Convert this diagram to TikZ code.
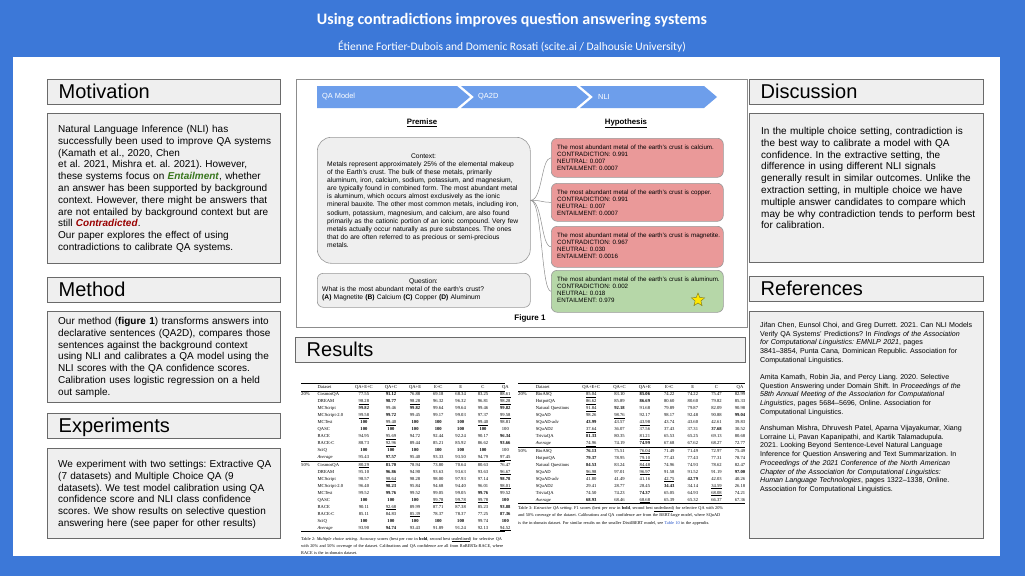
\documentclass[tikz,border=0pt]{standalone}
\usepackage{fontspec}
\setmainfont{Liberation Sans}
\newfontfamily\carlito{Carlito}
\newfontfamily\timesfont{Liberation Serif}
\usetikzlibrary{positioning,shapes.geometric}
\definecolor{bgblue}{HTML}{3C78D8}
\definecolor{boxfill}{HTML}{EFEFEF}
\definecolor{boxline}{HTML}{6A6A6A}
\definecolor{chev}{HTML}{6D9EEB}
\definecolor{redbox}{HTML}{EA9999}
\definecolor{greenbox}{HTML}{B6D7A8}
\definecolor{entgreen}{HTML}{38761D}
\definecolor{contred}{HTML}{990000}
\definecolor{linkblue}{HTML}{1F4FC8}
\frenchspacing
\setlength{\arrayrulewidth}{0.3pt}
\newcommand{\bst}[1]{\textbf{#1}}
\newcommand{\snd}[1]{\underline{#1}}
\tikzset{
  head/.style={draw=boxline, fill=boxfill, line width=0.9pt, anchor=north west, minimum height=24.5pt, inner sep=0pt},
  headtxt/.style={anchor=base west, inner sep=0pt, font=\fontsize{20}{24}\selectfont},
  panel/.style={draw=boxline, fill=boxfill, line width=0.9pt, anchor=north west, inner sep=0pt},
  bodytxt/.style={anchor=base west, text width=240pt, align=left, inner sep=0pt, font=\fontsize{10}{11.8}\selectfont},
  reftxt/.style={anchor=base west, text width=225pt, align=left, inner sep=0pt, font=\fontsize{7.1}{8.7}\selectfont},
  figtxt/.style={anchor=base west, text width=215pt, align=left, inner sep=0pt, font=\fontsize{6.7}{8.1}\selectfont},
  hypbox/.style={draw=black!40, line width=0.6pt, rounded corners=6pt, anchor=north west, minimum width=172pt, inner sep=0pt},
  hyptxt/.style={anchor=base west, text width=170pt, align=left, inner sep=0pt, font=\fontsize{6.2}{7}\selectfont},
  chevtxt/.style={anchor=west, inner sep=0pt, text=white, font=\fontsize{7.4}{9}\selectfont},
  link/.style={draw=black!45, line width=0.5pt},
  tabtxt/.style={anchor=north west, inner sep=0pt, font=\timesfont\fontsize{4.6}{7}\selectfont},
  captxt/.style={anchor=base west, text width=240pt, align=left, inner sep=0pt, font=\timesfont\fontsize{4.3}{7.3}\selectfont}
}
\begin{document}
\begin{tikzpicture}[x=1pt,y=-1pt]
\useasboundingbox (0,0) rectangle (1025,576);
\fill[bgblue] (0,0) rectangle (1025,576);
\fill[white] (13,57) rectangle (1000,556);
\node[text=white, font=\carlito\bfseries\fontsize{16}{19}\selectfont] (title) at (512,20) {Using contradictions improves question answering systems};
\node[text=white, font=\carlito\fontsize{11.5}{14}\selectfont] (authors) at (512,47) {Étienne Fortier-Dubois and Domenic Rosati (scite.ai / Dalhousie University)};

% section headers and panels
\foreach \nm/\x/\y/\w/\txt in {mot/47/79/233/Motivation, meth/47/277/233/Method, exp/47/413/233/Experiments, disc/749/79/234/Discussion, ref/749/276/234/References, res/295/337/450/Results}{
  \node[head, minimum width=\w] (\nm-head) at (\x,\y) {};
  \node[headtxt] (\nm-title) at ([shift={(11.5,19)}]\nm-head.north west) {\txt};
}
\foreach \nm/\x/\y/\w/\h in {mot/47/113/233/150, meth/47/311/233/91, exp/47/448/233/90, disc/749/113/234/149, ref/749/311/234/227}
  \node[panel, minimum width=\w, minimum height=\h] (\nm-box) at (\x,\y) {};

\node[bodytxt] (mot-txt) at (58,132.5) {Natural Language Inference (NLI) has\\ successfully been used to improve QA systems\\ (Kamath et al., 2020, Chen\\ et al. 2021, Mishra et. al. 2021). However,\\ these systems focus on \textcolor{entgreen}{\textbf{\textit{Entailment}}}, whether\\ an answer has been supported by background\\ context. However, there might be answers that\\ are not entailed by background context but are\\ still \textcolor{contred}{\textbf{\textit{Contradicted}}}.\\ Our paper explores the effect of using\\ contradictions to calibrate QA systems.};
\node[bodytxt] (meth-txt) at (58,324.5) {Our method (\textbf{figure 1}) transforms answers into\\ declarative sentences (QA2D), compares those\\ sentences against the background context\\ using NLI and calibrates a QA model using the\\ NLI scores with the QA confidence scores.\\ Calibration uses logistic regression on a held\\ out sample.};
\node[bodytxt] (exp-txt) at (58,467.5) {We experiment with two settings: Extractive QA\\ (7 datasets) and Multiple Choice QA (9\\ datasets). We test model calibration using QA\\ confidence score and NLI class confidence\\ scores. We show results on selective question\\ answering here (see paper for other results)};
\node[bodytxt] (disc-txt) at (761,134.5) {In the multiple choice setting, contradiction is\\ the best way to calibrate a model with QA\\ confidence. In the extractive setting, the\\ difference in using different NLI signals\\ generally result in similar outcomes. Unlike the\\ extraction setting, in multiple choice we have\\ multiple answer candidates to compare which\\ may be why contradiction tends to perform best\\ for calibration.};

% references, hanging indent
\node[reftxt] (ref1) at (760,327.5) {\hangindent=13pt\hangafter=1 Jifan Chen, Eunsol Choi, and Greg Durrett. 2021. Can NLI Models\\ Verify QA Systems' Predictions? In \textit{Findings of the Association}\\ \textit{for Computational Linguistics: EMNLP 2021}, pages\\ 3841--3854, Punta Cana, Dominican Republic. Association for\\ Computational Linguistics.};
\node[reftxt] (ref2) at (760,379.5) {\hangindent=13pt\hangafter=1 Amita Kamath, Robin Jia, and Percy Liang. 2020. Selective\\ Question Answering under Domain Shift. In \textit{Proceedings of the}\\ \textit{58th Annual Meeting of the Association for Computational}\\ \textit{Linguistics}, pages 5684--5696, Online. Association for\\ Computational Linguistics.};
\node[reftxt] (ref3) at (760,430.5) {\hangindent=13pt\hangafter=1 Anshuman Mishra, Dhruvesh Patel, Aparna Vijayakumar, Xiang\\ Lorraine Li, Pavan Kapanipathi, and Kartik Talamadupula.\\ 2021. Looking Beyond Sentence-Level Natural Language\\ Inference for Question Answering and Text Summarization. In\\ \textit{Proceedings of the 2021 Conference of the North American}\\ \textit{Chapter of the Association for Computational Linguistics:}\\ \textit{Human Language Technologies}, pages 1322--1338, Online.\\ Association for Computational Linguistics.};

% figure 1
\node[draw=black!45, line width=0.8pt, anchor=north west, minimum width=451pt, minimum height=248pt, inner sep=0pt] (fig) at (296,79) {};
\foreach \l/\r/\s in {317/457/0, 461/576/13, 580/704/13}
  \fill[chev] (\l,86) -- (\r,86) -- (\r+13,97) -- (\r,108) -- (\l,108) -- (\l+\s,97) -- cycle;
\node[chevtxt] (chev1) at (322,97) {QA Model};
\node[chevtxt] (chev2) at (478,97) {QA2D};
\node[chevtxt] (chev3) at (598,97) {NLI};
\node[font=\bfseries\fontsize{7.8}{9}\selectfont] (premise) at (422,123) {\underline{Premise}};
\node[font=\bfseries\fontsize{7.8}{9}\selectfont] (hypo) at (626,123) {\underline{Hypothesis}};

\node[draw=black!40, fill=boxfill, line width=0.6pt, rounded corners=14pt, anchor=north west, minimum width=213pt, minimum height=126pt, inner sep=0pt] (ctx) at (317,137) {};
\node[font=\fontsize{6.7}{8.1}\selectfont] (ctx-label) at (423.5,156) {Context:};
\node[figtxt] (ctx-txt) at (327,166.4) {Metals represent approximately 25\% of the elemental makeup\\ of the Earth's crust. The bulk of these metals, primarily\\ aluminum, iron, calcium, sodium, potassium, and magnesium,\\ are typically found in combined form. The most abundant metal\\ is aluminum, which occurs almost exclusively as the ionic\\ mineral bauxite. The other most common metals, including iron,\\ sodium, potassium, magnesium, and calcium, are also found\\ primarily as the cationic portion of an ionic compound. Very few\\ metals actually occur naturally as pure substances. The ones\\ that do are often referred to as precious or semi-precious\\ metals.};
\node[draw=black!40, fill=boxfill, line width=0.6pt, rounded corners=6pt, anchor=north west, minimum width=213pt, minimum height=34pt, inner sep=0pt] (quest) at (317,273) {};
\node[font=\fontsize{6.7}{8.1}\selectfont] (quest-label) at (423.5,282) {Question:};
\node[figtxt] (quest-txt) at (322,291.6) {What is the most abundant metal of the earth's crust?\\ \textbf{(A)} Magnetite \textbf{(B)} Calcium \textbf{(C)} Copper \textbf{(D)} Aluminum};

\foreach \i/\yt/\ht/\clr/\ans/\cv/\nv/\ev in {1/138/39/redbox/calcium/0.991/0.007/0.0007, 2/183/38/redbox/copper/0.991/0.007/0.0007, 3/226/41/redbox/magnetite/0.967/0.030/0.0016, 4/270/42/greenbox/aluminum/0.002/0.018/0.979}{
  \node[hypbox, fill=\clr, minimum height=\ht] (hyp\i) at (551,\yt) {};
  \node[hyptxt] (hyp\i-txt) at ([shift={(6,11.5)}]hyp\i.north west) {The most abundant metal of the earth's crust is \ans.\\ CONTRADICTION: \cv\\ NEUTRAL: \nv\\ ENTAILMENT: \ev};
}
\foreach \i in {1,...,4}
  \draw[link] (ctx.east) .. controls +(12,0) and +(-10,0) .. (hyp\i.west);
\node[star, star points=5, star point ratio=2.3, fill=yellow!90!orange, draw=olive!80!black, line width=0.4pt, minimum size=14pt, inner sep=0pt] (star) at (698,300) {};
\node[font=\bfseries\fontsize{8}{9}\selectfont] (figcap) at (530,318) {Figure 1};

% results tables
\node[tabtxt] (tab-mc) at (301,383) {%
\begin{tabular*}{204pt}{@{}l@{\hspace{8pt}\extracolsep{\fill}}lccccccc@{}}
\hline
 & Dataset & QA+E+C & QA+C & QA+E & E+C & E & C & QA\\
\hline
20\% & CosmosQA & 77.55 & \bst{91.12} & 76.88 & 69.18 & 68.34 & 83.25 & \snd{88.61}\\
 & DREAM & \snd{98.28} & \bst{98.77} & \snd{98.28} & 96.32 & 96.32 & 96.81 & \snd{98.28}\\
 & MCScript & \bst{99.82} & 99.46 & \bst{99.82} & 99.64 & 99.64 & 99.46 & \bst{99.82}\\
 & MCScript-2.0 & \snd{99.58} & \bst{99.72} & 99.45 & 99.17 & 99.03 & 97.37 & \snd{99.58}\\
 & MCTest & \bst{100} & \snd{99.40} & \bst{100} & \bst{100} & \bst{100} & \snd{99.40} & 98.81\\
 & QASC & \bst{100} & \bst{100} & \bst{100} & \bst{100} & \bst{100} & \bst{100} & 100\\
 & RACE & 94.95 & \snd{95.69} & 94.72 & 92.44 & 92.24 & 90.17 & \bst{96.34}\\
 & RACE-C & 88.73 & \snd{92.96} & 89.44 & 85.21 & 85.92 & 86.62 & \bst{93.66}\\
 & SciQ & \bst{100} & \bst{100} & \bst{100} & \bst{100} & \bst{100} & \bst{100} & 100\\
 & \textit{Average} & 95.43 & \bst{97.57} & 95.40 & 93.33 & 93.50 & 94.79 & \snd{97.45}\\
\hline
50\% & CosmosQA & \snd{80.29} & \bst{81.70} & 78.94 & 73.80 & 70.64 & 80.63 & 76.47\\
 & DREAM & 95.10 & \bst{96.86} & 94.90 & 93.63 & 93.63 & 93.63 & \snd{96.67}\\
 & MCScript & 98.57 & \snd{98.64} & 98.28 & 98.00 & 97.93 & 97.14 & \bst{98.78}\\
 & MCScript-2.0 & 96.40 & \bst{98.23} & 95.84 & 94.68 & 94.40 & 96.01 & \snd{98.01}\\
 & MCTest & 99.52 & \bst{99.76} & 99.52 & 99.05 & 99.05 & \bst{99.76} & 99.52\\
 & QASC & \bst{100} & \bst{100} & \bst{100} & \snd{99.78} & \snd{99.78} & \snd{99.78} & \bst{100}\\
 & RACE & 90.11 & \snd{92.68} & 89.99 & 87.71 & 87.38 & 85.23 & \bst{93.88}\\
 & RACE-C & 85.11 & 84.83 & \snd{85.39} & 78.37 & 78.37 & 77.25 & \bst{87.36}\\
 & SciQ & \bst{100} & \bst{100} & \bst{100} & \bst{100} & \bst{100} & 99.74 & \bst{100}\\
 & \textit{Average} & 93.90 & \bst{94.74} & 93.43 & 91.89 & 91.24 & 92.13 & \snd{94.52}\\
\hline
\end{tabular*}};
\node[captxt] (cap-mc) at (301,540) {Table 2: \textit{Multiple choice setting.} Accuracy scores (best per row in \textbf{bold}, second best \underline{underlined}) for selective QA\\ with 20\% and 50\% coverage of the dataset. Calibrations and QA confidence are all from RoBERTa-RACE, where\\ RACE is the in-domain dataset.};

\node[tabtxt] (tab-ex) at (518,383) {%
\begin{tabular*}{227pt}{@{}l@{\hspace{8pt}\extracolsep{\fill}}lccccccc@{}}
\hline
 & Dataset & QA+E+C & QA+C & QA+E & E+C & E & C & QA\\
\hline
20\% & BioASQ & \snd{85.04} & 83.10 & \bst{85.06} & 74.22 & 74.22 & 75.47 & 82.99\\
 & HotpotQA & \snd{86.62} & 85.89 & \bst{86.69} & 80.60 & 80.60 & 79.82 & 85.33\\
 & Natural Questions & \snd{91.84} & \bst{92.18} & 91.68 & 79.89 & 79.87 & 82.09 & 90.98\\
 & SQuAD & 98.26 & \snd{98.76} & 92.17 & 98.17 & 92.48 & 90.88 & \bst{99.04}\\
 & SQuAD-adv & \bst{43.99} & 43.57 & \snd{43.98} & 43.74 & 43.60 & 42.61 & 39.83\\
 & SQuAD2 & \snd{37.64} & 36.07 & 37.56 & 37.43 & 37.31 & \bst{37.68} & 30.52\\
 & TriviaQA & \bst{81.33} & 80.35 & \snd{81.21} & 65.53 & 65.25 & 69.13 & 80.68\\
 & \textit{Average} & \snd{74.96} & 74.19 & \bst{74.99} & 67.68 & 67.62 & 68.27 & 72.77\\
\hline
50\% & BioASQ & \bst{76.13} & 75.51 & \snd{76.04} & 71.49 & 71.49 & 72.97 & 75.49\\
 & HotpotQA & \bst{79.37} & 78.95 & \snd{79.10} & 77.43 & 77.43 & 77.31 & 78.74\\
 & Natural Questions & \bst{84.53} & 83.24 & \snd{84.48} & 74.96 & 74.93 & 78.62 & 82.47\\
 & SQuAD & \snd{96.98} & 97.01 & \snd{96.97} & 91.58 & 91.52 & 91.19 & \bst{97.00}\\
 & SQuAD-adv & 41.80 & 41.49 & 41.16 & \snd{42.75} & \bst{42.79} & 42.03 & 40.26\\
 & SQuAD2 & 29.41 & 28.77 & 28.45 & \bst{34.43} & 34.14 & \snd{34.59} & 26.18\\
 & TriviaQA & 74.50 & 74.23 & \bst{74.37} & 65.05 & 64.93 & \snd{68.08} & 74.21\\
 & \textit{Average} & \bst{68.93} & 68.46 & \snd{68.68} & 65.39 & 65.32 & 66.37 & 67.36\\
\hline
\end{tabular*}};
\node[captxt] (cap-ex) at (518,509.5) {Table 3: \textit{Extractive QA setting.} F1 scores (best per row in \textbf{bold}, second best \underline{underlined}) for selective QA with 20\%\\ and 50\% coverage of the dataset. Calibrations and QA confidence are from the BERT-large model, where SQuAD\\ is the in-domain dataset. For similar results on the smaller DistilBERT model, see \textcolor{linkblue}{Table 10} in the appendix.};
\end{tikzpicture}
\end{document}
